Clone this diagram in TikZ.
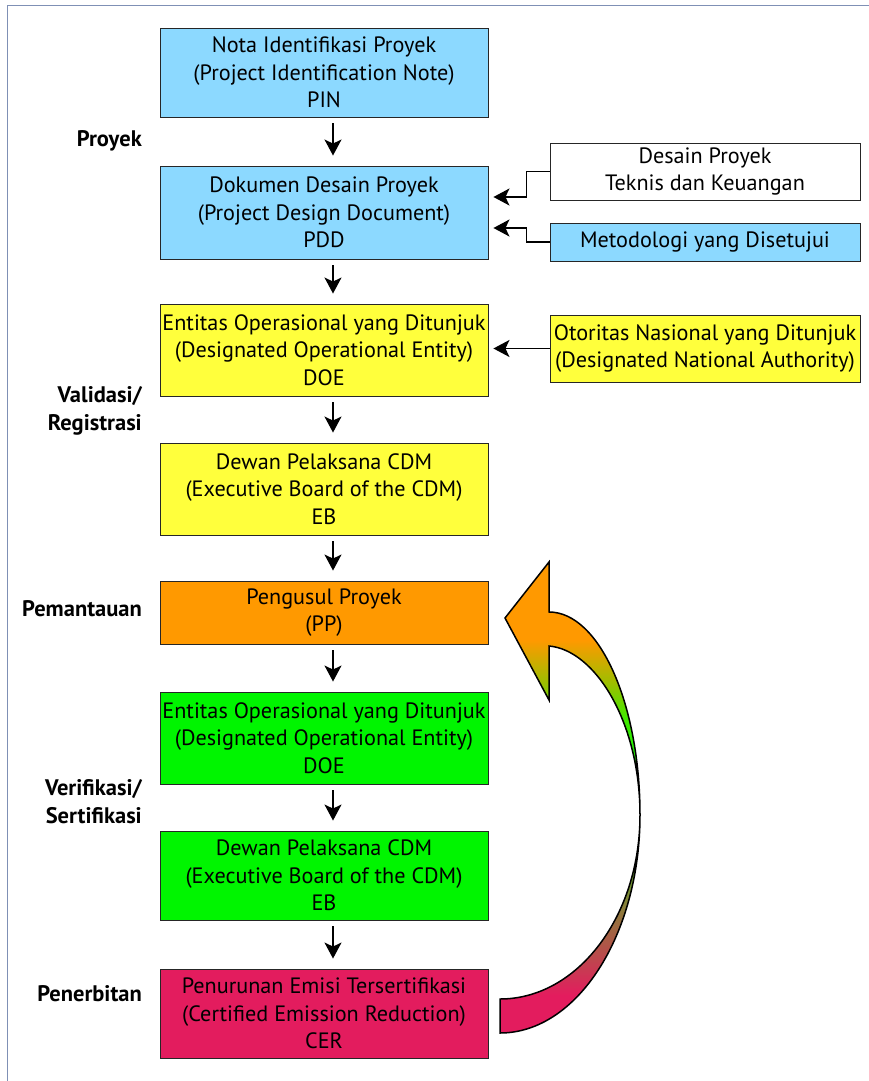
\documentclass[tikz,border=0pt]{standalone}
\usepackage{fontspec}
\setmainfont{PT Sans}
\usetikzlibrary{arrows.meta}
\definecolor{lblue}{HTML}{8CD9FF}
\definecolor{lyellow}{HTML}{FFFF3C}
\definecolor{orng}{HTML}{FF9900}
\definecolor{lgreen}{HTML}{00F500}
\definecolor{crim}{HTML}{E31C5E}
\definecolor{framec}{HTML}{7F90B5}
\definecolor{gbrown}{HTML}{B5504A}
\definecolor{golive}{HTML}{6F9A30}
\definecolor{gbright}{HTML}{22F000}
\definecolor{ggreen}{HTML}{44E800}
\definecolor{gyg}{HTML}{99C000}
\pgfdeclareverticalshading{arrowshade}{100bp}{
  color(0bp)=(crim); color(25bp)=(crim); color(29bp)=(crim);
  color(33.8bp)=(gbrown); color(41.2bp)=(golive);
  color(49bp)=(gbright); color(55bp)=(gbright); color(58.5bp)=(ggreen);
  color(62bp)=(gyg); color(66.7bp)=(orng); color(75bp)=(orng); color(100bp)=(orng)}
\begin{document}
\begin{tikzpicture}[x=1pt,y=-1pt,
  box/.style={draw=black!85, line width=0.9pt, minimum width=328pt, align=center, inner sep=0pt,
    font=\fontsize{22.2}{27.5}\selectfont},
  sbox/.style={draw=black!85, line width=0.9pt, minimum width=310pt, align=center, inner sep=0pt,
    font=\fontsize{22.2}{27}\selectfont},
  lab/.style={anchor=east, align=right, inner sep=0pt, font=\bfseries\fontsize{22.5}{28.5}\selectfont},
  arr/.style={line width=1.5pt, -{Stealth[length=16pt,width=17pt,inset=4pt]}}]
\useasboundingbox (0,0) rectangle (869,1081);
\draw[framec, line width=1.8pt] (869,5.5) -- (7.5,5.5) -- (7.5,1081);

% main column
\node[box, fill=lblue, minimum height=89pt] (pin) at (324,72.5) {Nota Identifikasi Proyek\\(Project Identification Note)\\PIN};
\node[box, fill=lblue, minimum height=93pt] (pdd) at (324,212.5) {Dokumen Desain Proyek\\(Project Design Document)\\PDD};
\node[box, fill=lyellow, minimum height=92pt] (doea) at (324,350) {Entitas Operasional yang Ditunjuk\\(Designated Operational Entity)\\DOE};
\node[box, fill=lyellow, minimum height=92pt] (eba) at (324,489) {Dewan Pelaksana CDM\\(Executive Board of the CDM)\\EB};
\node[box, fill=orng, minimum height=63pt] (pp) at (324,612.5) {Pengusul Proyek\\(PP)};
\node[box, fill=lgreen, minimum height=92pt] (doeb) at (324,738) {Entitas Operasional yang Ditunjuk\\(Designated Operational Entity)\\DOE};
\node[box, fill=lgreen, minimum height=89pt] (ebb) at (324,875.5) {Dewan Pelaksana CDM\\(Executive Board of the CDM)\\EB};
\node[box, fill=crim, minimum height=89pt] (cer) at (324,1013.5) {Penurunan Emisi Tersertifikasi\\(Certified Emission Reduction)\\CER};

\foreach \a/\b in {pin/pdd, pdd/doea, doea/eba, eba/pp, pp/doeb, doeb/ebb, ebb/cer}
  \draw[arr] ([xshift=9pt,yshift=-6pt]\a.south) -- ([xshift=9pt,yshift=10pt]\b.north);

% side boxes
\node[sbox, fill=white, minimum height=57pt] (des) at (705,171.5) {Desain Proyek\\Teknis dan Keuangan};
\node[sbox, fill=lblue, minimum height=38pt] (met) at (705,242) {Metodologi yang Disetujui};
\node[sbox, fill=lyellow, minimum height=67pt] (dna) at (705,348.5) {Otoritas Nasional yang Ditunjuk\\(Designated National Authority)};

\coordinate (t1) at ([xshift=5pt,yshift=15.5pt]pdd.east);
\coordinate (t2) at ([xshift=5pt,yshift=-15.5pt]pdd.east);
\coordinate (t3) at ([xshift=5pt]doea.east);
\draw[arr] (des.west) -- ++(-23,0) |- (t1);
\draw[arr] (met.west) -- ++(-23,0) |- (t2);
\draw[arr] (dna.west) -- (dna.west -| t3);

% left labels
\node[lab] (l1) at (142,141) {Proyek};
\node[lab] (l2) at (142,411) {Validasi/\\Registrasi};
\node[lab] (l3) at (142,609) {Pemantauan};
\node[lab] (l4) at (142,801.5) {Verifikasi/\\Sertifikasi};
\node[lab] (l5) at (142,994) {Penerbitan};

% curved arrow
\path[draw=black, line width=1.5pt, line join=miter, shading=arrowshade]
  (505,618) -- (549,562) -- (549,612)
  .. controls (599,612) and (640,703) .. (640,815)
  .. controls (640,935) and (577,1033) .. (500,1033)
  -- (500,999)
  .. controls (577,999) and (640,917) .. (640,815)
  .. controls (640,722) and (595,650) .. (549,646)
  -- (549,700) -- cycle;
\end{tikzpicture}
\end{document}
